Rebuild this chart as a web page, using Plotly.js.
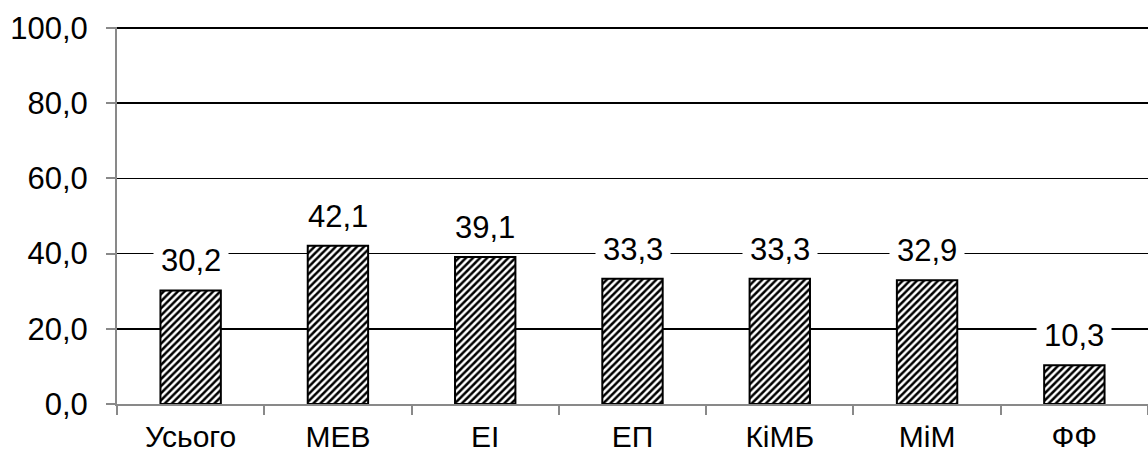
<!DOCTYPE html>
<html><head><meta charset="utf-8">
<script src="https://cdn.plot.ly/plotly-3.0.1.min.js"></script>
<style>html,body{margin:0;padding:0;background:#fff}#c{width:1148px;height:454px}</style>
</head><body><div id="c"></div>
<script>
const categories = ["Усього", "МЕВ", "ЕІ", "ЕП", "КіМБ", "МіМ", "ФФ"];
const values = [30.2, 42.1, 39.1, 33.3, 33.3, 32.9, 10.3];
const yTicks = [0, 20, 40, 60, 80, 100];

const font = {family: "Liberation Sans, Arial, sans-serif", size: 31, color: "#000"};
const xfont = {family: "Liberation Sans, Arial, sans-serif", size: 30, color: "#000"};

const trace = {
  type: "bar", x: categories, y: values, width: 0.41,
  marker: {color: "#fff", line: {color: "#000", width: 2},
    pattern: {shape: "/", fgcolor: "#000", bgcolor: "#fff", size: 5, solidity: 0.5}},
  hoverinfo: "none"
};

const annotations = categories.map((c, i) => ({
  x: c, y: values[i], xref: "x", yref: "y",
  text: values[i].toFixed(1).replace(".", ","),
  showarrow: false, yanchor: "bottom", yshift: 4,
  bgcolor: "#fff", borderpad: 7, font: font
}));

const layout = {
  width: 1148, height: 454,
  margin: {l: 117, r: 0, t: 27, b: 50},
  paper_bgcolor: "#fff", plot_bgcolor: "#fff",
  separators: ", ",
  font: font,
  showlegend: false,
  xaxis: {type: "category", showline: true, linecolor: "#898989", linewidth: 2,
    ticks: "outside", tickson: "boundaries", ticklen: 9, tickcolor: "#898989", tickwidth: 2,
    showgrid: false, tickfont: xfont, range: [-0.5, 6.5], ticklabelstandoff: 5},
  yaxis: {range: [0, 100.27], tickvals: yTicks, tickformat: ".1f",
    showline: true, linecolor: "#898989", linewidth: 2,
    ticks: "outside", ticklen: 9, tickcolor: "#898989", tickwidth: 2,
    showgrid: true, gridcolor: "#000", gridwidth: 1.5, zeroline: false,
    tickfont: font, ticklabelstandoff: 12},
  annotations: annotations
};

Plotly.newPlot("c", [trace], layout, {displayModeBar: false, staticPlot: true});
</script></body></html>
